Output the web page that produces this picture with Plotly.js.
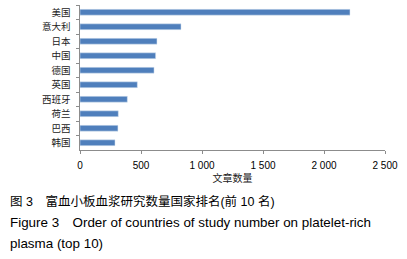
<!DOCTYPE html>
<html><head><meta charset="utf-8">
<script src="https://cdn.plot.ly/plotly-3.0.1.min.js"></script>
<style>html,body{margin:0;padding:0;background:#fff;}#c{width:407px;height:259px;}</style>
</head><body><div id="c"></div>
<script>
var countries = ["美国","意大利","日本","中国","德国","英国","西班牙","荷兰","巴西","韩国"];
var counts = [2213, 828, 631, 620, 607, 470, 388, 314, 311, 287];
var xTicks = [0, 500, 1000, 1500, 2000, 2500];
var xTickText = ["0", "500", "1 000", "1 500", "2 000", "2 500"];
var xTitle = "文章数量";
var captionCn = "图 3　富血小板血浆研究数量国家排名(前 10 名)";
var captionEn1 = "Figure 3　Order of countries of study number on platelet-rich";
var captionEn2 = "plasma (top 10)";

var trace = {
  type: "bar", orientation: "h",
  x: counts, y: countries,
  marker: {color: "#4F7FBC", line: {color: "#dbe6f3", width: 0.5}},
  hoverinfo: "none"
};
var fontCJK = "Liberation Sans, Arial, 'Noto Sans CJK SC', sans-serif";
var layout = {
  width: 407, height: 259,
  margin: {l: 80, r: 22, t: 5, b: 109},
  paper_bgcolor: "#fff", plot_bgcolor: "#fff",
  showlegend: false,
  bargap: 0.6,
  font: {family: fontCJK, color: "#000", size: 10},
  xaxis: {
    range: [0, 2500], tickvals: xTicks, ticktext: xTickText,
    showgrid: false, zeroline: false, showline: true, linecolor: "#8c8c8c", linewidth: 1,
    ticks: "outside", ticklen: 3, tickcolor: "#8c8c8c", ticklabelstandoff: 3,
    tickfont: {size: 10, family: fontCJK},
    title: {text: xTitle, font: {size: 10, family: fontCJK, color: "#222"}, standoff: 4}
  },
  yaxis: {
    autorange: "reversed", type: "category",
    showgrid: false, zeroline: false, showline: true, linecolor: "#8c8c8c", linewidth: 1.5,
    ticks: "outside", ticklen: 3, tickcolor: "#8c8c8c", tickson: "boundaries",
    tickfont: {size: 9.5, family: fontCJK, color: "#222"}, ticklabelstandoff: 6
  },
  annotations: [
    {text: captionCn, xref: "paper", yref: "paper", x: -0.236, y: -0.352, xanchor: "left", yanchor: "middle", showarrow: false, font: {size: 12.5, family: fontCJK}},
    {text: captionEn1, xref: "paper", yref: "paper", x: -0.236, y: -0.50, xanchor: "left", yanchor: "middle", showarrow: false, font: {size: 13.4, family: fontCJK}},
    {text: captionEn2, xref: "paper", yref: "paper", x: -0.236, y: -0.648, xanchor: "left", yanchor: "middle", showarrow: false, font: {size: 13.4, family: fontCJK}}
  ]
};
Plotly.newPlot("c", [trace], layout, {staticPlot: true, displayModeBar: false});
</script></body></html>
